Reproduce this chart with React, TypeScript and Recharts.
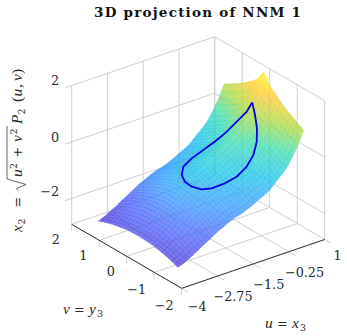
import React from 'react';
import { ScatterChart, Scatter, XAxis, YAxis, ReferenceLine } from 'recharts';

const W = 347, H = 336;

const uTicks = [-4, -2.75, -1.5, -0.25, 1];
const vTicks = [-2, -1, 0, 1, 2];
const zTicks = [-2, 0, 2];
const uTickText = ['\u22124', '\u22122.75', '\u22121.5', '\u22120.25', '1'];
const vTickText = ['\u22122', '\u22121', '0', '1', '2'];
const zTickText = ['\u22122', '0', '2'];
const zFloor = -2.92;
const zTop = 2;

const uValues = [-3.6, -3.4, -3.2, -3.0, -2.8, -2.6, -2.4, -2.2, -2.0, -1.8, -1.6, -1.4, -1.2, -1.0, -0.8, -0.6, -0.4, -0.2, 0, 0.2, 0.4, 0.6, 0.8];
const vHalf = [0, 0.242, 0.483, 0.725, 0.967, 1.208, 1.45];
const zRows = [
  [-2.33, -2.34, -2.36, -2.41, -2.46, -2.54, -2.63],
  [-2.20, -2.21, -2.24, -2.29, -2.36, -2.44, -2.55],
  [-2.04, -2.05, -2.08, -2.14, -2.22, -2.32, -2.44],
  [-1.88, -1.89, -1.93, -1.99, -2.08, -2.19, -2.33],
  [-1.70, -1.71, -1.76, -1.83, -1.92, -2.05, -2.20],
  [-1.53, -1.55, -1.61, -1.69, -1.79, -1.93, -2.08],
  [-1.36, -1.39, -1.46, -1.55, -1.66, -1.80, -1.96],
  [-1.18, -1.22, -1.29, -1.39, -1.52, -1.67, -1.83],
  [-1.04, -1.09, -1.17, -1.28, -1.42, -1.57, -1.74],
  [-0.88, -0.94, -1.04, -1.16, -1.31, -1.46, -1.63],
  [-0.75, -0.83, -0.94, -1.08, -1.22, -1.38, -1.55],
  [-0.65, -0.75, -0.88, -1.02, -1.17, -1.33, -1.50],
  [-0.52, -0.64, -0.77, -0.92, -1.09, -1.25, -1.42],
  [-0.38, -0.51, -0.66, -0.83, -0.99, -1.16, -1.33],
  [-0.24, -0.39, -0.55, -0.71, -0.88, -1.04, -1.22],
  [-0.12, -0.29, -0.45, -0.62, -0.79, -0.95, -1.12],
  [0, -0.18, -0.35, -0.52, -0.68, -0.84, -1.0],
  [0.2, 0, -0.17, -0.34, -0.49, -0.65, -0.8],
  [0.38, 0.16, -0.01, -0.17, -0.33, -0.48, -0.62],
  [0.6, 0.36, 0.17, 0.02, -0.13, -0.28, -0.42],
  [0.95, 0.68, 0.49, 0.33, 0.17, 0.04, -0.1],
  [1.37, 1.05, 0.85, 0.68, 0.53, 0.38, 0.25],
  [1.96, 1.57, 1.35, 1.16, 1.0, 0.85, 0.71],
];

const loopU = [0.39, 0.39, 0.17, -0.03, -0.34, -0.67, -1.02, -1.24, -1.51, -1.67, -1.82, -1.87, -1.79, -1.54, -1.1, -0.65, -0.24, 0.01, 0.28, 0.39, 0.39];
const loopV = [0, -0.1, -0.4, -0.6, -0.8, -0.9, -0.9, -0.7, -0.5, -0.3, -0.1, 0.1, 0.3, 0.5, 0.65, 0.7, 0.7, 0.6, 0.45, 0.2, 0];
const loopZ = [1.02, 0.63, 0.40, 0.11, -0.14, -0.38, -0.62, -0.89, -1.09, -1.18, -1.15, -1.07, -0.97, -0.88, -0.82, -0.71, -0.55, -0.29, 0.12, 0.58, 1.02];

const surfaceColors = ['#4a30d0', '#4a5cfa', '#3298fc', '#14c4ea', '#38dcae', '#a8da40', '#ffc828', '#fcfc10'];
const colorMin = -2.7, colorMax = 1.96;

// View of the 3D box on the page plane
const project = (u: number, v: number, z: number) => ({
  sx: 181.7 + 28.6 * (u + 4) - 27.5 * (v + 2),
  sy: 288.3 - 9.76 * (u + 4) - 16 * (v + 2) - 28.2 * (z - zFloor),
});

const hex = (s: string) => [1, 3, 5].map((i) => parseInt(s.slice(i, i + 2), 16));
const colorOf = (z: number) => {
  const t = Math.max(0, Math.min(0.9999, (z - colorMin) / (colorMax - colorMin))) * (surfaceColors.length - 1);
  const i = Math.floor(t), f = t - i;
  const a = hex(surfaceColors[i]), b = hex(surfaceColors[i + 1]);
  return `rgb(${a.map((c, k) => Math.round(c + (b[k] - c) * f)).join(',')})`;
};

const vValues = [...vHalf.slice(1).reverse().map((v) => -v), ...vHalf];
const zAt = (i: number, j: number) => zRows[i][Math.abs(j - 6)];

type Cell = { sx: number; sy: number; u: number[]; v: number[]; z: number[] };
const cells: Cell[] = [];
for (let i = 0; i < uValues.length - 1; i++) {
  for (let j = 0; j < vValues.length - 1; j++) {
    const u = [uValues[i], uValues[i + 1]];
    const v = [vValues[j], vValues[j + 1]];
    const z = [zAt(i, j), zAt(i + 1, j), zAt(i, j + 1), zAt(i + 1, j + 1)];
    const c = project((u[0] + u[1]) / 2, (v[0] + v[1]) / 2, (z[0] + z[1] + z[2] + z[3]) / 4);
    cells.push({ ...c, u, v, z });
  }
}
cells.sort((a, b) => 9.76 * (b.u[0] - a.u[0]) + 16 * (b.v[0] - a.v[0]));

const SUB = 2;
const SurfaceCell = (props: any) => {
  const { cx, cy, payload } = props;
  const p: Cell = payload;
  const ox = cx - p.sx, oy = cy - p.sy;
  const at = (a: number, b: number) => {
    const z = p.z[0] * (1 - a) * (1 - b) + p.z[1] * a * (1 - b) + p.z[2] * (1 - a) * b + p.z[3] * a * b;
    const q = project(p.u[0] + (p.u[1] - p.u[0]) * a, p.v[0] + (p.v[1] - p.v[0]) * b, z);
    return { x: q.sx + ox, y: q.sy + oy, z };
  };
  const out: React.ReactNode[] = [];
  for (let a = SUB - 1; a >= 0; a--) {
    for (let b = SUB - 1; b >= 0; b--) {
      const c = [at(a / SUB, b / SUB), at((a + 1) / SUB, b / SUB), at((a + 1) / SUB, (b + 1) / SUB), at(a / SUB, (b + 1) / SUB)];
      const fill = colorOf((c[0].z + c[1].z + c[2].z + c[3].z) / 4);
      out.push(
        <polygon
          key={`${a}-${b}`}
          points={c.map((q) => `${q.x.toFixed(2)},${q.y.toFixed(2)}`).join(' ')}
          fill={fill}
          fillOpacity={0.72}
          stroke={fill}
          strokeOpacity={0.55}
          strokeWidth={0.55}
        />
      );
    }
  }
  return <g>{out}</g>;
};

type Seg = [{ sx: number; sy: number }, { sx: number; sy: number }];
const seg = (a: number[], b: number[]): Seg => [project(a[0], a[1], a[2]), project(b[0], b[1], b[2])];
const uMin = uTicks[0], uMax = uTicks[4], vMin = vTicks[0], vMax = vTicks[4];

const gridSegs: Seg[] = [
  ...uTicks.map((u) => seg([u, vMin, zFloor], [u, vMax, zFloor])),
  ...vTicks.map((v) => seg([uMin, v, zFloor], [uMax, v, zFloor])),
  ...uTicks.map((u) => seg([u, vMax, zFloor], [u, vMax, zTop])),
  ...vTicks.map((v) => seg([uMax, v, zFloor], [uMax, v, zTop])),
  ...zTicks.map((z) => seg([uMin, vMax, z], [uMax, vMax, z])),
  ...zTicks.map((z) => seg([uMax, vMin, z], [uMax, vMax, z])),
];
const axisSegs: Seg[] = [seg([uMin, vMin, zFloor], [uMin, vMax, zFloor]), seg([uMin, vMin, zFloor], [uMax, vMin, zFloor])];

const tickSegs: Seg[] = [
  ...vTicks.map((v): Seg => { const a = project(uMin, v, zFloor); return [a, { sx: a.sx, sy: a.sy + 7 }]; }),
  ...uTicks.map((u): Seg => { const a = project(u, vMin, zFloor); return [a, { sx: a.sx + 6.5, sy: a.sy + 3.8 }]; }),
  ...zTicks.map((z): Seg => { const a = project(uMin, vMax, z); return [a, { sx: a.sx - 6.6, sy: a.sy + 2.3 }]; }),
];

const FONT = '"Liberation Serif", serif';
const WIDE = '"DejaVu Serif", serif';
const TEXT = '#2a2a2a';

const labelsData = [
  ...uTickText.map((t, i) => {
    const a = project(uTicks[i], vMin, zFloor);
    const dy = t.length === 1 ? 15.5 : t.length === 2 ? 18.4 : 20.5;
    return { sx: a.sx + (t.length === 1 ? 13 : 15.6), sy: a.sy + dy, t, anchor: 'middle' };
  }),
  ...vTickText.map((t, i) => {
    const a = project(uMin, vTicks[i], zFloor);
    return { sx: a.sx + (t.length > 1 ? -17.4 : -15.8), sy: a.sy + (t.length > 1 ? 17 : 14.8), t, anchor: 'middle' };
  }),
  ...zTickText.map((t, i) => {
    const a = project(uMin, vMax, zTicks[i]);
    return { sx: a.sx - 12.5, sy: a.sy + (t.length > 1 ? -6.6 : -4.7), t, anchor: 'end' };
  }),
];

const TickText = (props: any) => {
  const { cx, cy, payload } = props;
  return (
    <text x={cx} y={cy} dy="0.36em" textAnchor={payload.anchor} fontFamily={WIDE} fontSize={12.8} fill={TEXT}>
      {payload.t}
    </text>
  );
};

const SUBSIZE = 9.5;
const Mi = ({ x, y, children, size = 15.5 }: any) => (
  <text x={x} y={y} fontFamily={FONT} fontSize={size} fontStyle="italic" fill={TEXT}>{children}</text>
);
const Mr = ({ x, y, children, size = 12.8, font = WIDE }: any) => (
  <text x={x} y={y} fontFamily={font} fontSize={size} fill={TEXT}>{children}</text>
);

const TitleMark = (props: any) => (
  <text x={props.cx} y={props.cy} textAnchor="middle" fontFamily={WIDE} fontWeight="bold" fontSize={13.5} fill="#111" textLength={207} lengthAdjust="spacing">
    3D projection of NNM 1
  </text>
);

const VLabel = (props: any) => {
  const { cx, cy } = props;
  return (
    <g transform={`translate(${cx},${cy})`}>
      <Mi x={0} y={0}>v</Mi><Mr x={11} y={0}>=</Mr><Mi x={26} y={0}>y</Mi><Mr x={34} y={3} size={SUBSIZE}>3</Mr>
    </g>
  );
};
const ULabel = (props: any) => {
  const { cx, cy } = props;
  return (
    <g transform={`translate(${cx},${cy})`}>
      <Mi x={0} y={0}>u</Mi><Mr x={12} y={0}>=</Mr><Mi x={27} y={0}>x</Mi><Mr x={35} y={3} size={SUBSIZE}>3</Mr>
    </g>
  );
};
const ZLabel = (props: any) => {
  const { cx, cy } = props;
  return (
    <g transform={`translate(${cx},${cy}) rotate(-90)`}>
      <Mi x={0} y={0}>x</Mi><Mr x={7.5} y={3} size={SUBSIZE}>2</Mr>
      <Mr x={24.5} y={0}>=</Mr>
      <path d="M41.5,-4 L43.5,-5.5 L47.5,4 L53,-15 H106" fill="none" stroke={TEXT} strokeWidth={0.7} />
      <Mi x={55} y={0}>u</Mi><Mr x={63} y={-5} size={SUBSIZE}>2</Mr>
      <Mr x={74.5} y={0}>+</Mr>
      <Mi x={90} y={0}>v</Mi><Mr x={97.5} y={-5} size={SUBSIZE}>2</Mr>
      <Mi x={108} y={0}>P</Mi><Mr x={117.5} y={3} size={SUBSIZE}>2</Mr>
      <Mr x={130} y={0} size={15.5} font={FONT}>(</Mr><Mi x={135.5} y={0}>u</Mi><Mr x={144} y={0} size={15.5} font={FONT}>,</Mr><Mi x={151} y={0}>v</Mi><Mr x={158} y={0} size={15.5} font={FONT}>)</Mr>
    </g>
  );
};

const loopData = loopU.map((u, i) => ({ ...project(u, loopV[i], loopZ[i]) }));
const Nothing = () => null;

const one = (sx: number, sy: number) => [{ sx, sy }];

export default function App() {
  return (
    <div style={{ position: 'absolute', left: 0, top: 0, width: W, height: H }}>
      <ScatterChart width={W} height={H} margin={{ top: 0, right: 0, bottom: 0, left: 0 }}>
        <XAxis type="number" dataKey="sx" domain={[0, W]} hide allowDataOverflow />
        <YAxis type="number" dataKey="sy" domain={[0, H]} reversed hide allowDataOverflow />
        {gridSegs.map((s, i) => (
          <ReferenceLine key={`g${i}`} segment={[{ x: s[0].sx, y: s[0].sy }, { x: s[1].sx, y: s[1].sy }]} stroke="#c9c9c9" strokeWidth={0.9} />
        ))}
        {tickSegs.map((s, i) => (
          <ReferenceLine key={`t${i}`} segment={[{ x: s[0].sx, y: s[0].sy }, { x: s[1].sx, y: s[1].sy }]} stroke="#c9c9c9" strokeWidth={0.9} />
        ))}
        {axisSegs.map((s, i) => (
          <ReferenceLine key={`a${i}`} segment={[{ x: s[0].sx, y: s[0].sy }, { x: s[1].sx, y: s[1].sy }]} stroke="#222" strokeWidth={0.9} />
        ))}
        <Scatter data={cells} shape={SurfaceCell} isAnimationActive={false} />
        <Scatter data={loopData} shape={Nothing} line={{ stroke: '#0000e6', strokeWidth: 1.8, strokeLinejoin: 'round' }} isAnimationActive={false} />
        <Scatter data={labelsData} shape={TickText} isAnimationActive={false} />
        <Scatter data={one(197.5, 17)} shape={TitleMark} isAnimationActive={false} />
        <Scatter data={one(63, 314)} shape={VLabel} isAnimationActive={false} />
        <Scatter data={one(265, 327.5)} shape={ULabel} isAnimationActive={false} />
        <Scatter data={one(22, 232)} shape={ZLabel} isAnimationActive={false} />
      </ScatterChart>
    </div>
  );
}
